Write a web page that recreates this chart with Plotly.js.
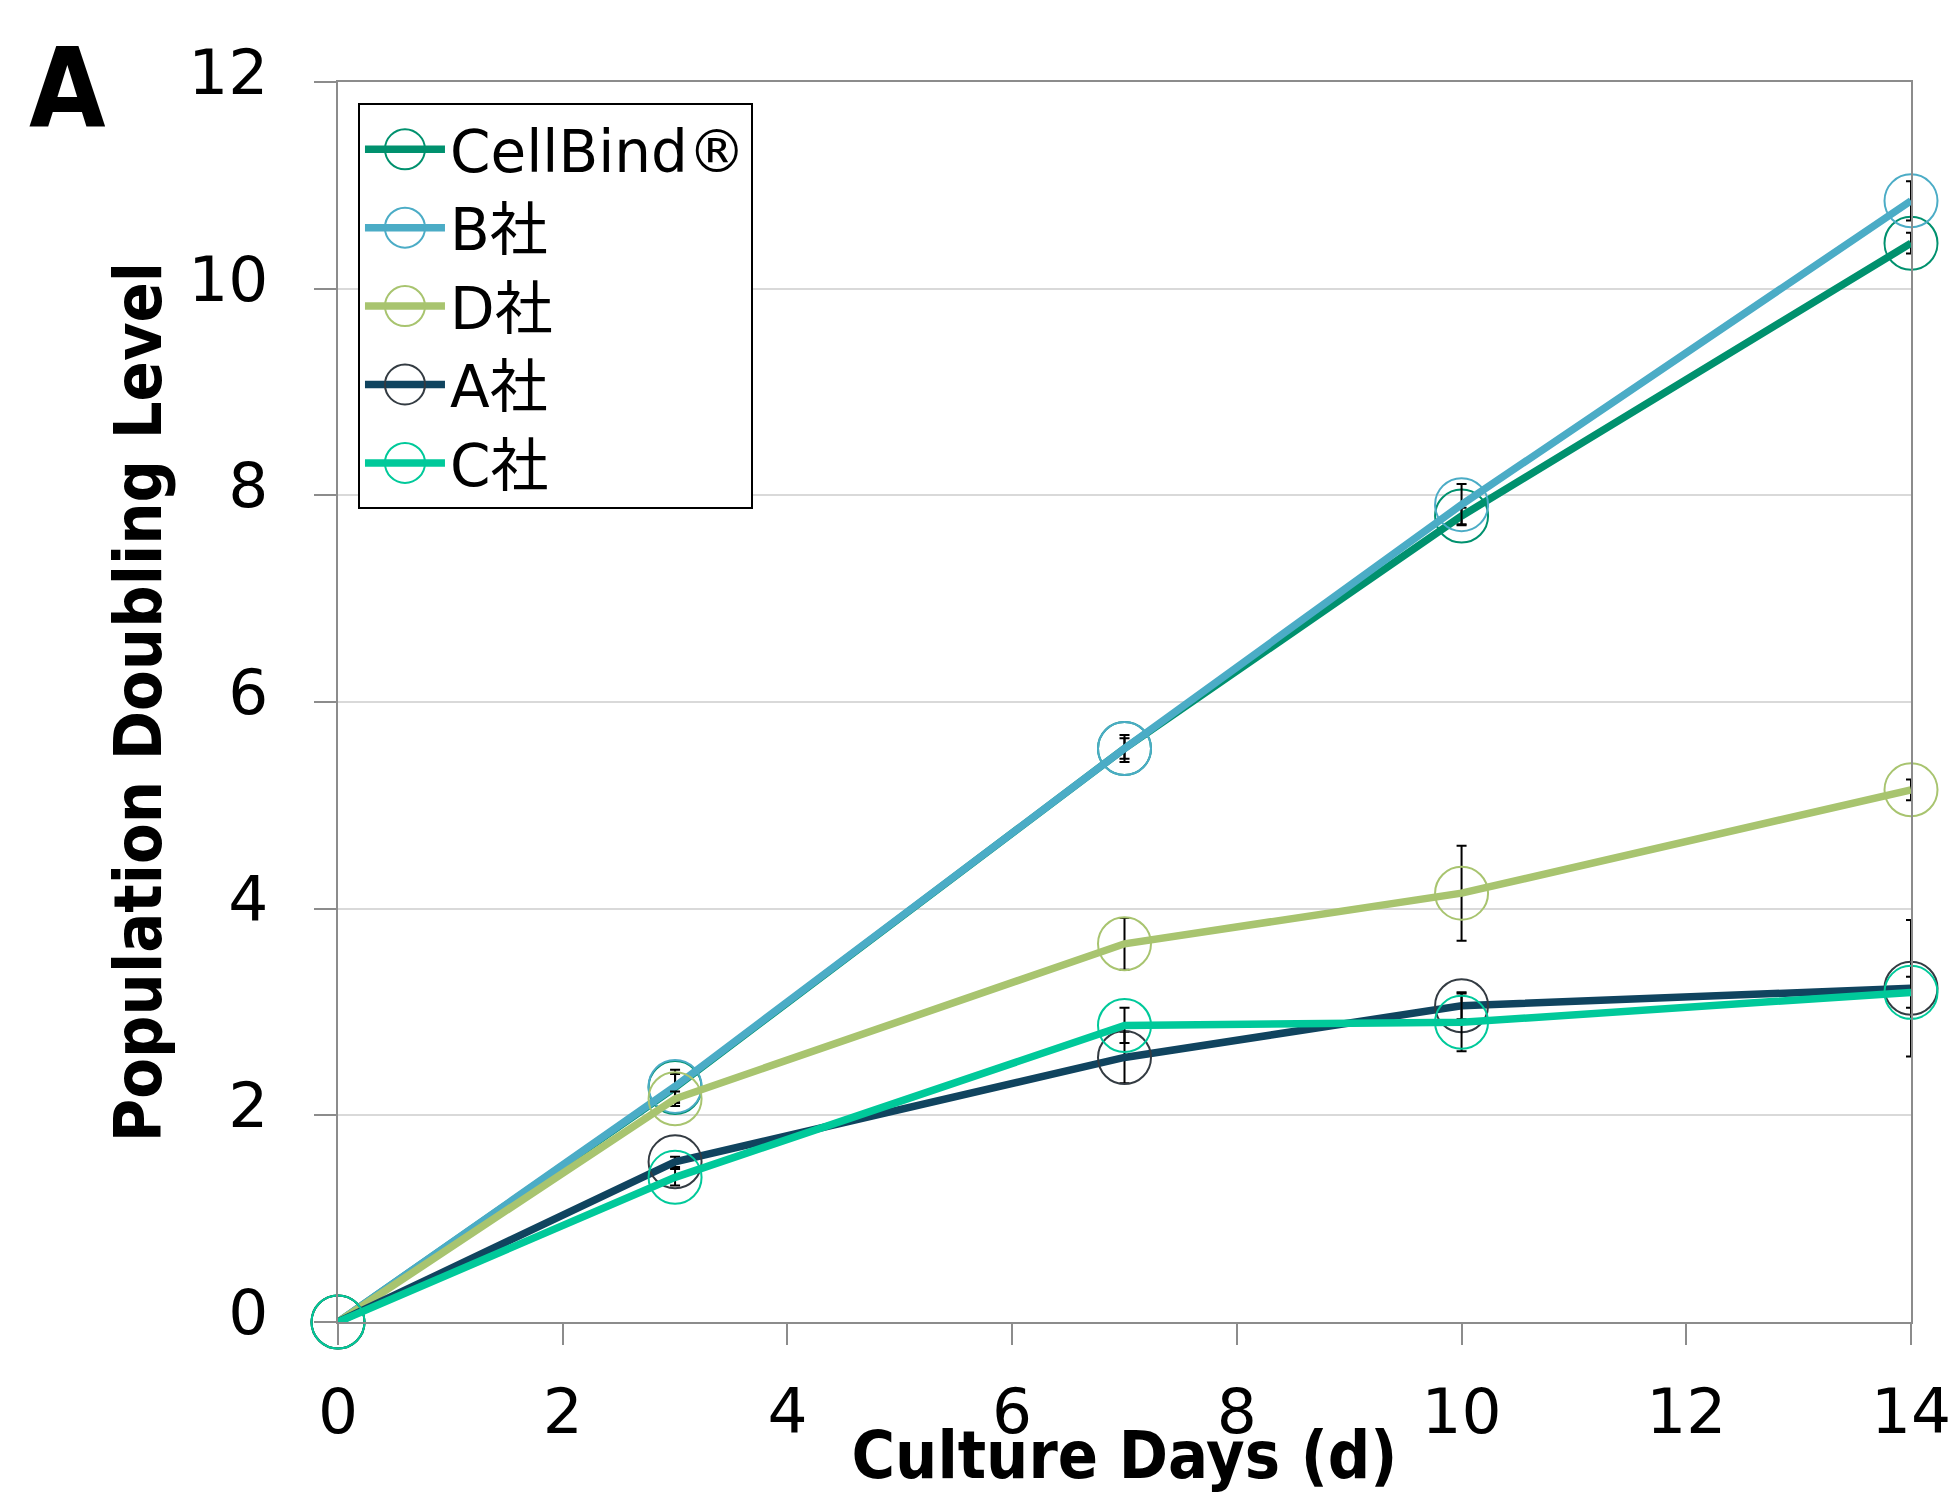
<!DOCTYPE html>
<html><head><meta charset="utf-8">
<script src="https://cdn.plot.ly/plotly-3.0.1.min.js"></script>
<style>html,body{margin:0;padding:0;background:#fff;}</style>
</head><body>
<div id="chart" style="width:1954px;height:1494px;"></div>
<script>
// ---- data ----
const days = [0, 3, 7, 10, 14];
const seriesNames = ['CellBind®', 'B社', 'D社', 'A社', 'C社'];
const cellbindPDL = [0, 2.27, 5.55, 7.80, 10.44];
const cellbindSD  = [0, 0.13, 0.10, 0.08, 0.10];
const bPDL = [0, 2.28, 5.55, 7.91, 10.85];
const bSD  = [0, 0.16, 0.13, 0.20, 0.19];
const dPDL = [0, 2.16, 3.66, 4.15, 5.15];
const dSD  = [0, 0.07, 0.25, 0.46, 0.10];
const aPDL = [0, 1.55, 2.56, 3.06, 3.23];
const aSD  = [0, 0.05, 0.25, 0.13, 0.66];
const cPDL = [0, 1.40, 2.87, 2.90, 3.19];
const cSD  = [0, 0.08, 0.17, 0.28, 0.15];
const xTicks = [0, 2, 4, 6, 8, 10, 12, 14];
const yTicks = [0, 2, 4, 6, 8, 10, 12];

const lineColors   = ['#00916E', '#4BACC6', '#A8C46F', '#10445F', '#00C99A'];
const markerColors = ['#00916E', '#4BACC6', '#A8C46F', '#333B42', '#00C99A'];
const values = [cellbindPDL, bPDL, dPDL, aPDL, cPDL];
const sds = [cellbindSD, bSD, dSD, aSD, cSD];

const FONT = 'DejaVu Sans, Noto Sans CJK JP, sans-serif';
const FONT_COND = 'DejaVu Sans Condensed, DejaVu Sans, sans-serif';

const traces = seriesNames.map((name, i) => ({
  type: 'scatter',
  mode: 'lines+markers',
  name: name,
  x: days,
  y: values[i],
  cliponaxis: false,
  line: {color: lineColors[i], width: 7.5},
  marker: {symbol: 'circle', size: 53, color: 'rgba(255,255,255,0)',
           line: {color: markerColors[i], width: 2}},
  error_y: {type: 'data', array: sds[i].map(v => v > 0 ? v : NaN),
            visible: true, color: '#000', thickness: 2, width: 5}
}));

const layout = {
  width: 1954, height: 1494,
  margin: {l: 338, r: 43, t: 82, b: 172},
  paper_bgcolor: '#fff', plot_bgcolor: '#fff',
  font: {family: FONT, color: '#000'},
  showlegend: true,
  xaxis: {
    range: [0, 14], tickvals: xTicks, ticktext: xTicks.map(String),
    showgrid: false, zeroline: false,
    showline: true, linecolor: '#8C8C8C', linewidth: 2, mirror: true,
    ticks: 'outside', ticklen: 21, tickwidth: 2, tickcolor: '#8C8C8C',
    tickfont: {size: 63, family: FONT, color: '#000'},
    ticklabelstandoff: 12,
    title: {text: 'Culture Days (d)', standoff: 28,
            font: {size: 66, family: FONT_COND, weight: 'bold', color: '#000'}}
  },
  yaxis: {
    range: [0, 12], tickvals: yTicks, ticktext: yTicks.map(String),
    showgrid: true, gridcolor: '#D9D9D9', gridwidth: 2, zeroline: false,
    showline: true, linecolor: '#8C8C8C', linewidth: 2, mirror: true,
    ticks: 'outside', ticklen: 22, tickwidth: 2, tickcolor: '#8C8C8C',
    tickfont: {size: 63, family: FONT, color: '#000'},
    ticklabelstandoff: 33, ticklabelshift: -10,
    title: {text: 'Population Doubling Level', standoff: 5,
            font: {size: 66, family: FONT_COND, weight: 'bold', color: '#000'}}
  },
  legend: {
    x: 0.0127, y: 0.983, xanchor: 'left', yanchor: 'top',
    bgcolor: '#fff', bordercolor: '#000', borderwidth: 2,
    font: {size: 58, family: FONT, color: '#000'},
    itemsizing: 'trace', itemwidth: 80, tracegroupgap: 0
  },
  annotations: [{
    text: 'A', xref: 'paper', yref: 'paper', x: -0.1975, y: 0.994,
    xanchor: 'left', yanchor: 'middle', showarrow: false,
    font: {size: 110, family: FONT_COND, weight: 'bold', color: '#000'}
  }]
};

Plotly.newPlot('chart', traces, layout, {displayModeBar: false, staticPlot: true}).then(gd => {
  // enlarge the legend key circles (Plotly caps legend markers at 16px)
  gd.querySelectorAll('.legend .legendpoints path').forEach(p => {
    p.setAttribute('d', 'M20,0A20,20 0 1,1 0,-20A20,20 0 0,1 20,0Z');
  });
});
</script>
</body></html>
